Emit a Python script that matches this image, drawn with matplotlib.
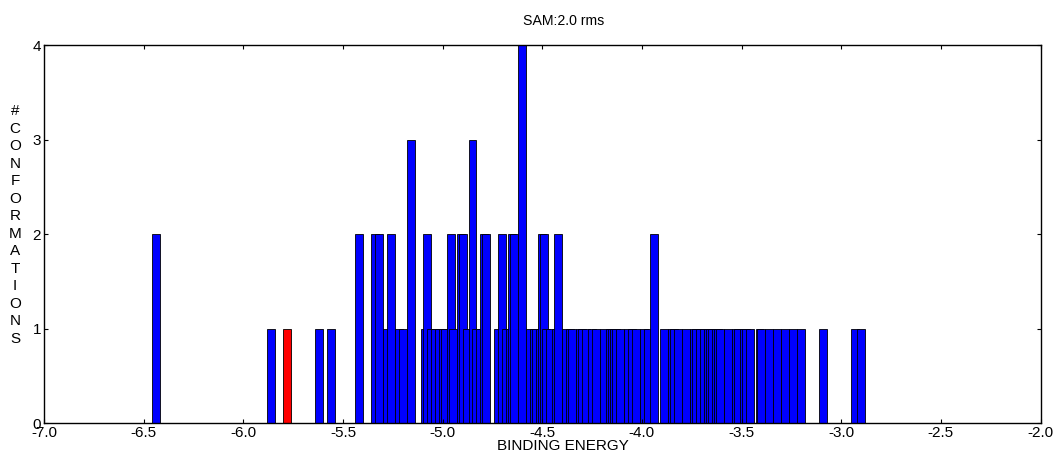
import matplotlib
matplotlib.use("Agg")
import matplotlib.pyplot as plt

plt.rcParams['font.family'] = ['Liberation Sans', 'DejaVu Sans']
plt.rcParams['axes.unicode_minus'] = False

# Cluster lowest binding energies (bar left edges) and cluster sizes
energies = [-6.46, -5.88, -5.80, -5.64, -5.58, -5.44, -5.36, -5.34, -5.30, -5.28,
            -5.24, -5.22, -5.18, -5.11, -5.10, -5.08, -5.06, -5.04, -5.02, -5.01,
            -4.98, -4.97, -4.93, -4.92, -4.90, -4.87, -4.85, -4.83, -4.81, -4.80,
            -4.74, -4.72, -4.70, -4.68, -4.67, -4.66, -4.62, -4.58, -4.56, -4.55,
            -4.53, -4.52, -4.51, -4.50, -4.48, -4.45, -4.44, -4.40, -4.38, -4.37,
            -4.33, -4.32, -4.30, -4.27, -4.25, -4.21, -4.18, -4.17, -4.16, -4.15,
            -4.13, -4.09, -4.07, -4.05, -4.01, -3.99, -3.96, -3.91, -3.87, -3.86,
            -3.84, -3.80, -3.76, -3.75, -3.73, -3.71, -3.69, -3.68, -3.67, -3.65,
            -3.64, -3.63, -3.59, -3.55, -3.54, -3.51, -3.50, -3.48, -3.43, -3.42,
            -3.38, -3.34, -3.30, -3.26, -3.22, -3.11, -2.95, -2.92]
counts = [2, 1, 1, 1, 1, 2, 2, 2, 1, 2,
          1, 1, 3, 1, 2, 1, 1, 1, 1, 1,
          2, 1, 2, 2, 1, 3, 1, 1, 2, 2,
          1, 2, 1, 1, 2, 2, 4, 1, 1, 1,
          1, 2, 2, 1, 1, 1, 2, 1, 1, 1,
          1, 1, 1, 1, 1, 1, 1, 1, 1, 1,
          1, 1, 1, 1, 1, 1, 2, 1, 1, 1,
          1, 1, 1, 1, 1, 1, 1, 1, 1, 1,
          1, 1, 1, 1, 1, 1, 1, 1, 1, 1,
          1, 1, 1, 1, 1, 1, 1, 1]
selected_energy = -5.80

title = "SAM:2.0 rms"
xlabel = "BINDING ENERGY"
ylabel = "#CONFORMATIONS"
xticks = [-7.0, -6.5, -6.0, -5.5, -5.0, -4.5, -4.0, -3.5, -3.0, -2.5, -2.0]
yticks = [0, 1, 2, 3, 4]

colors = ['#ff0000' if e == selected_energy else '#0000ff' for e in energies]

fig = plt.figure(figsize=(10.53, 4.53), dpi=100)
ax = fig.add_axes([44/1053, 1 - 423.3/453, (1040.5-44)/1053, (423.3-45.3)/453])

ax.bar(energies, counts, width=0.04, align='edge', color=colors,
       edgecolor='black', linewidth=0.6)

ax.set_xlim(-7.0, -2.0)
ax.set_ylim(0, 4)
ax.set_xticks(xticks)
ax.set_xticklabels([f"{t:.1f}" for t in xticks])
ax.set_yticks(yticks)
ax.tick_params(direction='in', length=3, width=0.8, top=True, right=True,
               labelsize=11, pad=2)
for s in ax.spines.values():
    s.set_linewidth(1.0)

ax.text(0.521, 1.045, title, transform=ax.transAxes, ha='center', va='bottom',
        fontsize=10.2)
ax.text(0.521, -0.042, xlabel, transform=ax.transAxes, ha='center', va='top',
        fontsize=11)
fig.text(15/1053, 1 - 225/453, "\n".join(ylabel), ha='center', va='center',
         fontsize=11, linespacing=1.32)

fig.savefig("out.png", dpi=100)
